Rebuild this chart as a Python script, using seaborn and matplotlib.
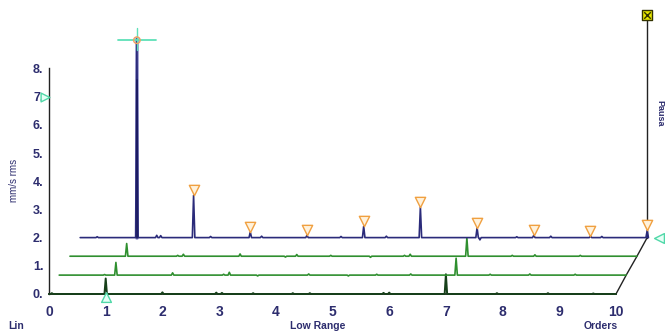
import numpy as np
import pandas as pd
import matplotlib
matplotlib.use("Agg")
import matplotlib.pyplot as plt
import seaborn as sns

# ---- datos (orden, amplitud sobre la linea base) ----
orders = [0, 1, 2, 3, 4, 5, 6, 7, 8, 9, 10]
y_ticks = [0, 1, 2, 3, 4, 5, 6, 7, 8]

# traza 1 (delante, verde oscuro)
t1_orders = [0.05, 1.0, 2.0, 2.95, 3.05, 3.6, 4.3, 4.6, 5.9, 6.0, 7.0, 7.9, 8.8, 9.6]
t1_amps = [0.03, 0.55, 0.06, 0.05, 0.04, 0.03, 0.03, 0.03, 0.04, 0.05, 0.70, 0.03, 0.03, 0.02]
# traza 2 (verde)
t2_orders = [0.8, 1.0, 2.0, 2.9, 3.0, 3.5, 4.4, 5.1, 5.6, 6.2, 7.0, 7.6, 8.3, 9.1]
t2_amps = [0.02, 0.45, 0.08, 0.03, 0.10, -0.03, 0.04, -0.03, 0.03, 0.04, 0.60, 0.03, 0.04, 0.03]
# traza 3 (verde)
t3_orders = [1.0, 1.9, 2.0, 3.0, 3.8, 4.0, 4.6, 5.3, 5.9, 6.0, 7.0, 7.8, 8.2, 9.0]
t3_amps = [0.45, 0.03, 0.07, 0.08, -0.03, 0.06, 0.03, -0.04, 0.03, 0.07, 0.65, 0.03, 0.05, 0.03]
# traza 4 (atras, azul) - la que tiene los marcadores de armonicos
t4_orders = [0.3, 1.0, 1.35, 1.42, 2.0, 2.3, 3.0, 3.2, 4.0, 4.6, 5.0, 5.4, 6.0, 7.0, 7.05, 7.7, 8.0, 8.3, 9.0, 9.2, 10.0]
t4_amps = [0.03, 7.05, 0.08, 0.07, 1.50, 0.04, 0.20, 0.05, 0.08, 0.04, 0.40, 0.05, 1.08, 0.35, -0.08, 0.03, 0.08, 0.05, 0.05, 0.04, 0.25]

harm_orders = [2, 3, 4, 5, 6, 7, 8, 9, 10]
harm_tops = [1.50, 0.20, 0.08, 0.40, 1.08, 0.35, 0.08, 0.05, 0.25]

# desplazamiento de cada traza en la cascada (x en ordenes, y en mm/s)
dx = [0.0, 0.18, 0.37, 0.55]
dy = [0.0, 0.67, 1.34, 2.0]

navy = "#2b2b7a"
txt = "#2d2d6e"
green = "#2f8f2f"
dkgreen = "#17401a"


def build_trace(pk_orders, pk_amps, shift_x, shift_y, w=0.022):
    xs, ys = [0.0], [0.0]
    for o, a in sorted(zip(pk_orders, pk_amps)):
        xs += [o - w, o, o + w]
        ys += [0.0, a, 0.0]
    xs.append(10.0)
    ys.append(0.0)
    return pd.DataFrame({"x": np.array(xs) + shift_x, "y": np.array(ys) + shift_y})


sns.set_style("white")
plt.rcParams["font.family"] = ["Liberation Sans", "DejaVu Sans"]

fig = plt.figure(figsize=(6.65, 3.36), dpi=100)
ax = fig.add_axes([49 / 665, 42 / 336, 567 / 665, 225.6 / 336])
ax.set_xlim(0, 10)
ax.set_ylim(0, 8)

traces = [
    (t1_orders, t1_amps, dkgreen, 1.4),
    (t2_orders, t2_amps, green, 1.2),
    (t3_orders, t3_amps, green, 1.2),
    (t4_orders, t4_amps, navy, 1.2),
]
for i, (o, a, c, lw) in enumerate(traces):
    df = build_trace(o, a, dx[i], dy[i])
    sns.lineplot(data=df, x="x", y="y", ax=ax, color=c, lw=lw,
                 estimator=None, sort=False, clip_on=False, zorder=3 + i)

# pico principal: banda clara alrededor
ax.plot([1 + dx[3], 1 + dx[3]], [dy[3], dy[3] + 7.05], color="#8a8ac8",
        lw=2.8, zorder=5, clip_on=False, alpha=0.8)
ax.plot([1 + dx[3], 1 + dx[3]], [dy[3], 7.6], color="#1a1a60",
        lw=1.3, zorder=8, clip_on=False)

# marcadores de armonicos
ax.scatter(np.array(harm_orders) + dx[3], np.array(harm_tops) + dy[3] + 0.18,
           marker="v", s=55, facecolor="#fff2dc", edgecolor="#f0a040",
           linewidth=1.0, zorder=9, clip_on=False)

# cursor en el pico principal
cx, cy = 1 + dx[3], 9.0
ax.plot([cx - 0.33, cx + 0.34], [cy, cy], color="#5ee0b8", lw=1.3, zorder=10, clip_on=False)
ax.plot([cx, cx], [cy - 0.35, cy + 0.45], color="#5ee0b8", lw=1.0, zorder=10, clip_on=False)
ax.scatter([cx], [cy], s=22, facecolor="none", edgecolor="#f0a060", lw=1, zorder=11, clip_on=False)

# marcadores cian
ax.scatter([-0.07], [7.0], marker=">", s=40, facecolor="#e6fff6", edgecolor="#50d8a8",
           lw=1, zorder=10, clip_on=False)
ax.scatter([10.75], [2.0], marker="<", s=50, facecolor="#e6fff6", edgecolor="#50d8a8",
           lw=1, zorder=10, clip_on=False)
ax.scatter([1.0], [-0.12], marker="^", s=50, facecolor="#e6fff6", edgecolor="#50d8a8",
           lw=1, zorder=10, clip_on=False)

# marco de la cascada (derecha)
ax.plot([10 + d for d in dx], dy, color="#222222", lw=1.0, zorder=2, clip_on=False)
ax.plot([10 + dx[3], 10 + dx[3]], [dy[3], 9.85], color="#222222", lw=1.0, zorder=2, clip_on=False)
ax.scatter([10 + dx[3]], [9.9], marker="s", s=60, facecolor="#e6e600", edgecolor="#333300",
           lw=1, zorder=12, clip_on=False)
ax.scatter([10 + dx[3]], [9.9], marker="x", s=22, color="#333300", lw=1, zorder=13, clip_on=False)

# ejes
for s in ["top", "right"]:
    ax.spines[s].set_visible(False)
ax.spines["left"].set_color("#222222")
ax.spines["bottom"].set_color("#222222")
ax.spines["left"].set_linewidth(1.0)
ax.spines["bottom"].set_linewidth(1.3)
ax.set_yticks(y_ticks)
ax.set_yticklabels([f"{v}." for v in y_ticks])
ax.set_xticks(orders)
ax.set_xticklabels([str(v) for v in orders])
ax.tick_params(axis="y", direction="out", length=3, width=1, color="#222222",
               labelsize=9, labelcolor=txt, pad=1)
ax.tick_params(axis="x", length=0, labelsize=10, labelcolor=txt, pad=8)
for lab in ax.get_xticklabels() + ax.get_yticklabels():
    lab.set_fontweight("bold")
ax.set_xlabel("")
ax.set_ylabel("")
ax.grid(False)

fig.text(14 / 665, 1 - 180 / 336, "mm/s rms", rotation=90, ha="center", va="center",
         fontsize=7, color=txt)
fig.text(8 / 665, 1 - 326 / 336, "Lin", ha="left", va="center", fontsize=7.5,
         color=txt, fontweight="bold")
fig.text(318 / 665, 1 - 326 / 336, "Low Range", ha="center", va="center", fontsize=7.5,
         color=txt, fontweight="bold")
fig.text(601 / 665, 1 - 326 / 336, "Orders", ha="center", va="center", fontsize=7.5,
         color=txt, fontweight="bold")
fig.text(660 / 665, 1 - 113 / 336, "Pausa", rotation=270, ha="center", va="center",
         fontsize=6.5, color=txt, fontweight="bold")

fig.savefig("out.png", dpi=100)
